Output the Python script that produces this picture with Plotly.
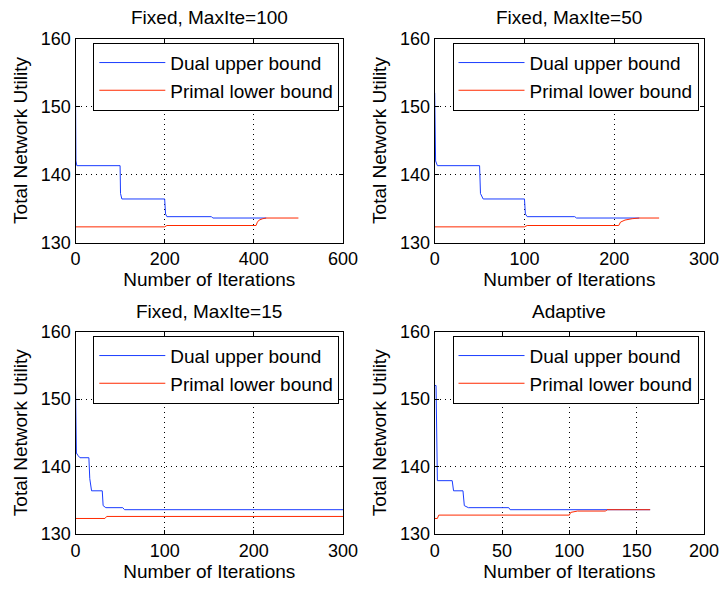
import plotly.graph_objects as go

# ---------------- data ----------------
titles = ["Fixed, MaxIte=100", "Fixed, MaxIte=50", "Fixed, MaxIte=15", "Adaptive"]
x_ranges = [[0, 600], [0, 300], [0, 300], [0, 200]]
x_dticks = [200, 100, 100, 50]
y_range = [130, 160]
y_tickvals = [130, 140, 150, 160]

dual1_x = [0, 1, 3, 100, 101, 104, 200, 202, 205, 305, 308, 428]
dual1_y = [152, 142, 141.3, 141.3, 137.2, 136.4, 136.4, 134.2, 133.8, 133.8, 133.6, 133.6]
primal1_x = [0, 200, 205, 405, 408, 412, 420, 428, 500]
primal1_y = [132.3, 132.3, 132.5, 132.5, 133.0, 133.3, 133.5, 133.6, 133.6]

dual2_x = [0, 1, 3, 50, 51, 54, 100, 101, 103, 156, 158, 228]
dual2_y = [152, 142, 141.3, 141.3, 137.2, 136.4, 136.4, 134.2, 133.8, 133.8, 133.6, 133.6]
primal2_x = [0, 100, 103, 205, 207, 212, 220, 228, 250]
primal2_y = [132.3, 132.3, 132.5, 132.5, 133.0, 133.3, 133.5, 133.6, 133.6]

dual3_x = [0, 1, 3, 5, 15, 16, 18, 30, 31, 34, 53, 55, 300]
dual3_y = [152, 142, 141.6, 141.3, 141.3, 138.2, 136.4, 136.4, 134.2, 133.9, 133.9, 133.6, 133.6]
primal3_x = [0, 33, 35, 300]
primal3_y = [132.3, 132.3, 132.6, 132.6]

dual4_x = [0, 1, 2, 13, 14, 21, 22, 25, 55, 56, 160]
dual4_y = [152, 152, 137.9, 137.9, 136.4, 136.4, 134.2, 133.9, 133.9, 133.6, 133.6]
primal4_x = [0, 2, 3, 100, 101, 106, 127, 128, 160]
primal4_y = [132.3, 132.3, 132.8, 132.8, 133.2, 133.4, 133.4, 133.6, 133.6]

duals = [(dual1_x, dual1_y), (dual2_x, dual2_y), (dual3_x, dual3_y), (dual4_x, dual4_y)]
primals = [(primal1_x, primal1_y), (primal2_x, primal2_y), (primal3_x, primal3_y), (primal4_x, primal4_y)]
series_names = ["Dual upper bound", "Primal lower bound"]

# ---------------- layout ----------------
W, H = 722, 592
FONT = "Liberation Sans, Arial, Helvetica, sans-serif"
BLUE = "#1a3cff"
RED = "#ff2a00"

# pixel boxes of each axes (left, top, right, bottom)
boxes = [(75.5, 38.5, 343, 242.5), (434.7, 38.5, 704, 242.5),
         (75.5, 331.5, 343, 534), (434.7, 331.5, 704, 534)]

fig = go.Figure()
layout = dict(width=W, height=H, margin=dict(l=0, r=0, t=0, b=0, autoexpand=False),
              paper_bgcolor="white", plot_bgcolor="white",
              font=dict(family=FONT, size=18, color="black"),
              showlegend=True, annotations=[])

for i in range(4):
    k = "" if i == 0 else str(i + 1)
    l, t, r, b = boxes[i]
    xd = [l / W, r / W]
    yd = [1 - b / H, 1 - t / H]
    leg = "legend" + k
    fig.add_trace(go.Scatter(x=duals[i][0], y=duals[i][1], mode="lines",
                             name=series_names[0], line=dict(color=BLUE, width=1),
                             xaxis="x" + k, yaxis="y" + k, legend=leg))
    fig.add_trace(go.Scatter(x=primals[i][0], y=primals[i][1], mode="lines",
                             name=series_names[1], line=dict(color=RED, width=1),
                             xaxis="x" + k, yaxis="y" + k, legend=leg))
    axcommon = dict(showline=True, linecolor="black", linewidth=1, mirror="allticks",
                    ticks="inside", ticklen=4, tickcolor="black", automargin=False,
                    showgrid=True, gridcolor="black", griddash="1px,4px", gridwidth=1,
                    zeroline=False, tickfont=dict(size=18, family=FONT))
    layout["xaxis" + k] = dict(domain=xd, anchor="y" + k, range=x_ranges[i],
                               dtick=x_dticks[i], tick0=0,
                               title=dict(text="Number of Iterations", standoff=3,
                                          font=dict(size=19)),
                               **axcommon)
    layout["yaxis" + k] = dict(domain=yd, anchor="x" + k, range=y_range,
                               tickvals=y_tickvals,
                               title=dict(text="Total Network Utility", standoff=8,
                                          font=dict(size=19)),
                               **axcommon)
    layout[leg] = dict(x=(l + 17.8) / W, y=1 - (t + 4.2) / H, xanchor="left", yanchor="top",
                       bgcolor="white", bordercolor="black", borderwidth=1,
                       font=dict(size=19, family=FONT), itemwidth=66,
                       tracegroupgap=0)
    layout["annotations"].append(dict(text=titles[i], x=(xd[0] + xd[1]) / 2, y=yd[1],
                                      xref="paper", yref="paper", xanchor="center",
                                      yanchor="bottom", yshift=8, showarrow=False,
                                      font=dict(size=19, family=FONT)))

fig.update_layout(**layout)
fig.write_html("out.html")
